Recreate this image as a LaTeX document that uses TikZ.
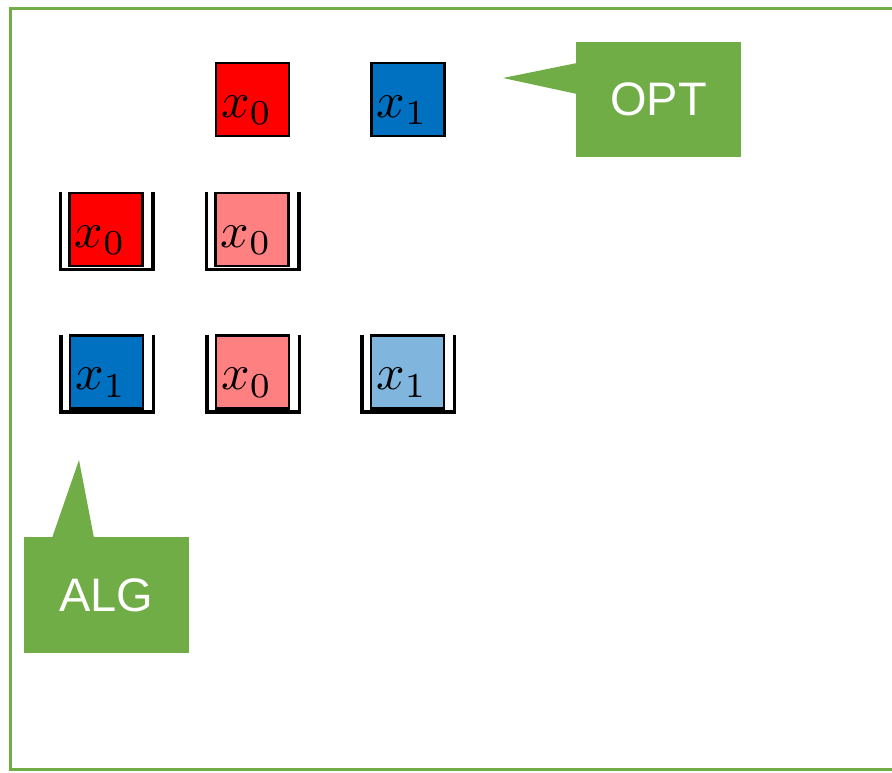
\documentclass[tikz,border=0pt]{standalone}
\usepackage{graphicx}
\usepackage{fontspec}
\newfontfamily\arialf{Liberation Sans}
\definecolor{ogreen}{RGB}{112,173,71}
\definecolor{bred}{RGB}{255,0,0}
\definecolor{bblue}{RGB}{0,112,192}
\definecolor{lred}{RGB}{255,128,128}
\definecolor{lblue}{RGB}{128,182,222}
\newcommand{\binof}[1]{%
  \draw[binline] ([xshift=-9pt,yshift=1pt]#1.north west) -- ([xshift=-9pt,yshift=-3.5pt]#1.south west)
    -- ([xshift=10.5pt,yshift=-3.5pt]#1.south east) -- ([xshift=10.5pt,yshift=1pt]#1.north east);}
\newcommand{\mylabmath}[1]{\scalebox{5}{$#1$}}
\begin{document}
\begin{tikzpicture}[x=1pt,y=-1pt,
  sq/.style={draw=black, line width=2.2pt, minimum width=73pt, minimum height=73pt, inner sep=0pt, outer sep=0pt},
  lab/.style={inner sep=0pt, anchor=base west},
  binline/.style={line width=3.5pt, line join=miter},
  callbox/.style={fill=ogreen, text=white, minimum width=165pt, minimum height=115pt, inner sep=0pt, outer sep=0pt, font=\arialf\fontsize{47}{47}\selectfont},
  frame/.style={draw=ogreen, line width=3.5pt}]
\useasboundingbox (0,0) rectangle (892,772);
\draw[frame] (896,8.5) -- (10.5,8.5) -- (10.5,769.5) -- (896,769.5);

% top row (OPT)
\node[sq, fill=bred] (o0) at (252.5,99.5) {};
\node[sq, fill=bblue] (o1) at (408,99.5) {};
\node[lab] (to0) at ([xshift=5pt,yshift=19pt]o0.south west) {\mylabmath{x_0}};
\node[lab] (to1) at ([xshift=5pt,yshift=19pt]o1.south west) {\mylabmath{x_1}};

% row 2
\node[sq, fill=bred] (a0) at (106,229.5) {};
\node[sq, fill=lred] (a1) at (252,229.5) {};
\node[lab] (ta0) at ([xshift=5pt,yshift=19pt]a0.south west) {\mylabmath{x_0}};
\node[lab] (ta1) at ([xshift=5pt,yshift=19pt]a1.south west) {\mylabmath{x_0}};
\binof{a0}\binof{a1}

% row 3
\node[sq, fill=bblue] (c0) at (106.5,372) {};
\node[sq, fill=lred] (c1) at (252.5,372) {};
\node[sq, fill=lblue] (c2) at (407.5,372) {};
\node[lab] (tc0) at ([xshift=5pt,yshift=19pt]c0.south west) {\mylabmath{x_1}};
\node[lab] (tc1) at ([xshift=5pt,yshift=19pt]c1.south west) {\mylabmath{x_0}};
\node[lab] (tc2) at ([xshift=5pt,yshift=19pt]c2.south west) {\mylabmath{x_1}};
\binof{c0}\binof{c1}\binof{c2}

% callouts
\node[callbox] (opt) at (658.5,99.5) {OPT};
\coordinate (opttip) at (503,78);
\fill[ogreen] ([xshift=1pt,yshift=36.5pt]opt.west) -- (opttip) -- ([xshift=1pt,yshift=5.5pt]opt.west) -- cycle;

\node[callbox, minimum height=116pt] (alg) at (106.5,595) {ALG};
\coordinate (algtip) at (79,460);
\fill[ogreen] ([xshift=-54.5pt,yshift=-1pt]alg.north) -- (algtip) -- ([xshift=-12.5pt,yshift=-1pt]alg.north) -- cycle;
\end{tikzpicture}
\end{document}
